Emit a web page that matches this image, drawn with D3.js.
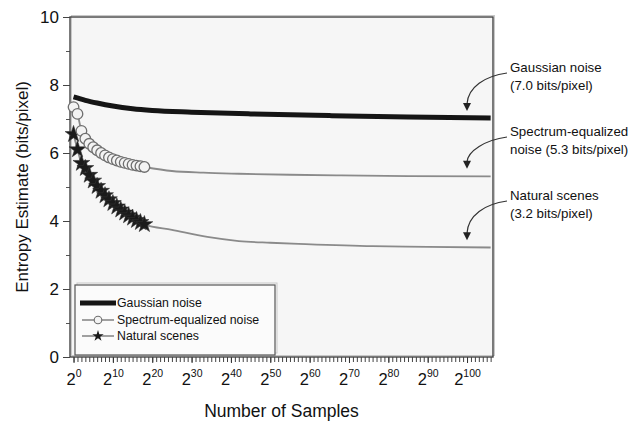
<!DOCTYPE html>
<html>
<head>
<meta charset="utf-8">
<script src="https://cdn.jsdelivr.net/npm/d3@7"></script>
<style>
  html, body { margin: 0; padding: 0; background: #fff; }
  svg { display: block; font-family: "Liberation Sans", Arial, sans-serif; }
</style>
</head>
<body>
<svg id="chart" width="640" height="424"></svg>
<script>
// Entropy estimate vs. number of samples (log2 of sample count on the x axis)

// Gaussian noise: fitted curve
const gaussExp = [0, 3, 6, 10, 15, 20, 30, 45, 65, 85, 106];
const gaussVal = [7.65, 7.55, 7.47, 7.38, 7.30, 7.25, 7.20, 7.15, 7.10, 7.06, 7.03];

// Spectrum-equalized noise: measured points and extrapolated curve
const specExp = [0, 1, 2, 3, 4, 5, 6, 7, 8, 9, 10, 11, 12, 13, 14, 15, 16, 17, 18];
const specVal = [7.35, 7.15, 6.65, 6.42, 6.27, 6.17, 6.08, 6.00, 5.93, 5.87, 5.82, 5.78, 5.74, 5.71, 5.68, 5.65, 5.63, 5.61, 5.59];
const specFitExp = [18, 25, 33, 42, 55, 68, 85, 106];
const specFitVal = [5.59, 5.47, 5.42, 5.39, 5.36, 5.34, 5.32, 5.31];

// Natural scenes: measured points and extrapolated curve
const natExp = [0, 1, 2, 3, 4, 5, 6, 7, 8, 9, 10, 11, 12, 13, 14, 15, 16, 17, 18];
const natVal = [6.55, 6.10, 5.70, 5.55, 5.35, 5.18, 5.02, 4.88, 4.75, 4.63, 4.52, 4.42, 4.33, 4.24, 4.16, 4.09, 4.02, 3.96, 3.90];
const natFitExp = [18, 25, 34, 42, 50, 59, 76, 90, 106];
const natFitVal = [3.90, 3.74, 3.53, 3.41, 3.36, 3.32, 3.26, 3.24, 3.22];

// Asymptotic entropies written beside the curves
const asymNames = ["Gaussian noise", "Spectrum-equalized", "Natural scenes"];
const asymSecond = ["(7.0 bits/pixel)", "noise (5.3 bits/pixel)", "(3.2 bits/pixel)"];
const asymValues = [7.0, 5.3, 3.2];

// Axis ticks
const xMajorExp = [0, 10, 20, 30, 40, 50, 60, 70, 80, 90, 100];
const xMinorExp = d3.range(0, 107);
const yMajor = [0, 2, 4, 6, 8, 10];
const yMinor = [1, 3, 5, 7, 9];

const legendLabels = ["Gaussian noise", "Spectrum-equalized noise", "Natural scenes"];

const svg = d3.select("#chart");
const L = 70, R = 493, T = 17, B = 357;

const x = d3.scaleLog().base(2)
  .domain([Math.pow(2, -0.9), Math.pow(2, 106.6)])
  .range([L, R]);
const y = d3.scaleLinear().domain([0, 10]).range([B, T]);
const px = e => x(Math.pow(2, e));

// plot background
svg.append("rect").attr("x", L).attr("y", T).attr("width", R - L).attr("height", B - T)
  .attr("fill", "#f6f6f6");

// axes
const gx = svg.append("g").attr("transform", `translate(0,${B})`);
gx.call(d3.axisBottom(x).tickValues(xMinorExp.map(e => Math.pow(2, e)))
  .tickSize(5).tickSizeOuter(0).tickFormat(""));
gx.select(".domain").remove();
gx.selectAll(".tick line").attr("stroke", "#444").attr("stroke-width", 1);

const gxl = svg.append("g").attr("transform", `translate(0,${B})`);
gxl.call(d3.axisBottom(x).tickValues(xMajorExp.map(e => Math.pow(2, e)))
  .tickSize(6).tickSizeOuter(0).tickFormat(""));
gxl.select(".domain").remove();
gxl.selectAll(".tick line").attr("stroke", "#333").attr("stroke-width", 1);
gxl.selectAll(".tick").each(function (d) {
  const t = d3.select(this).append("text")
    .attr("y", 28).attr("text-anchor", "middle").attr("fill", "#111");
  t.append("tspan").attr("font-size", 16.5).text("2");
  t.append("tspan").attr("font-size", 10.5).attr("dy", -8).text(Math.round(Math.log2(d)));
});

const gy = svg.append("g").attr("transform", `translate(${L},0)`);
gy.call(d3.axisLeft(y).tickValues(yMajor).tickSize(7).tickSizeOuter(0).tickPadding(4));
gy.select(".domain").remove();
gy.selectAll(".tick line").attr("stroke", "#444");
gy.selectAll(".tick text").attr("font-size", 17).attr("fill", "#111")
  .attr("font-family", "Liberation Sans, Arial, sans-serif");

const gym = svg.append("g").attr("transform", `translate(${L},0)`);
gym.call(d3.axisLeft(y).tickValues(yMinor).tickSize(4).tickSizeOuter(0).tickFormat(""));
gym.select(".domain").remove();
gym.selectAll(".tick line").attr("stroke", "#555");

// frame with a faint shadow
svg.append("rect").attr("x", L + 1.5).attr("y", T - 1.5).attr("width", R - L).attr("height", B - T)
  .attr("fill", "none").attr("stroke", "#c8c8c8").attr("stroke-width", 1);
svg.append("rect").attr("x", L).attr("y", T).attr("width", R - L).attr("height", B - T)
  .attr("fill", "none").attr("stroke", "#444").attr("stroke-width", 1.4);

// curves
const line = d3.line().x(d => px(d[0])).y(d => y(d[1])).curve(d3.curveMonotoneX);
const zip = (a, b) => a.map((v, i) => [v, b[i]]);

svg.append("path").datum(zip(specExp, specVal).concat(zip(specFitExp, specFitVal).slice(1)))
  .attr("d", line).attr("fill", "none").attr("stroke", "#8a8a8a").attr("stroke-width", 1.8);
svg.append("path").datum(zip(natExp, natVal).concat(zip(natFitExp, natFitVal).slice(1)))
  .attr("d", line).attr("fill", "none").attr("stroke", "#8a8a8a").attr("stroke-width", 1.8);
svg.append("path").datum(zip(gaussExp, gaussVal))
  .attr("d", line).attr("fill", "none").attr("stroke", "#151515").attr("stroke-width", 5);

// markers
const star = d3.symbol().type(d3.symbolStar).size(88);
svg.append("g").selectAll("path").data(zip(natExp, natVal)).join("path")
  .attr("d", star).attr("transform", d => `translate(${px(d[0])},${y(d[1])})`)
  .attr("fill", "#1a1a1a").attr("stroke", "#333").attr("stroke-width", 0.6);
svg.append("g").selectAll("circle").data(zip(specExp, specVal)).join("circle")
  .attr("cx", d => px(d[0])).attr("cy", d => y(d[1])).attr("r", 5.3)
  .attr("fill", "#f3f3f3").attr("stroke", "#6e6e6e").attr("stroke-width", 1.3);

// annotations with curved arrows
const labelX = 510;
const firstBaselines = [72, 136, 200];
asymValues.forEach((v, i) => {
  const b = firstBaselines[i];
  const t = svg.append("text").attr("x", labelX).attr("y", b)
    .attr("font-size", 13.3).attr("fill", "#111");
  t.append("tspan").attr("x", labelX).text(asymNames[i]);
  t.append("tspan").attr("x", labelX).attr("dy", 17.5).text(asymSecond[i]);
  const tipX = 467, tipY = y(v) - 8, sx = 507, sy = b + 1;
  svg.append("path")
    .attr("d", `M${sx},${sy} C${sx - 22},${sy + 3} ${tipX + 1},${sy + 14} ${tipX},${tipY - 7}`)
    .attr("fill", "none").attr("stroke", "#333").attr("stroke-width", 1.2);
  svg.append("path")
    .attr("d", `M${tipX - 4},${tipY - 8} L${tipX + 4},${tipY - 8} L${tipX},${tipY} Z`)
    .attr("fill", "#222");
});

// axis titles
svg.append("text").attr("x", (L + R) / 2).attr("y", 417).attr("text-anchor", "middle")
  .attr("font-size", 17.5).attr("fill", "#111").text("Number of Samples");
svg.append("text").attr("transform", `translate(28,${(T + B) / 2}) rotate(-90)`)
  .attr("text-anchor", "middle").attr("font-size", 17).attr("fill", "#111")
  .text("Entropy Estimate (bits/pixel)");

// legend
const lg = svg.append("g");
lg.append("rect").attr("x", 77).attr("y", 283).attr("width", 200).attr("height", 70)
  .attr("fill", "none").attr("stroke", "#c8c8c8").attr("stroke-width", 1);
lg.append("rect").attr("x", 75).attr("y", 285).attr("width", 200).attr("height", 70)
  .attr("fill", "#fbfbfb").attr("stroke", "#555").attr("stroke-width", 1.2);
const rows = [303, 320, 336];
rows.forEach((ry, i) => {
  if (i === 0) {
    lg.append("line").attr("x1", 80).attr("x2", 116).attr("y1", ry).attr("y2", ry)
      .attr("stroke", "#151515").attr("stroke-width", 5);
  } else {
    lg.append("line").attr("x1", 82).attr("x2", 114).attr("y1", ry).attr("y2", ry)
      .attr("stroke", "#8a8a8a").attr("stroke-width", 1.6);
    if (i === 1) {
      lg.append("circle").attr("cx", 98).attr("cy", ry).attr("r", 3.8)
        .attr("fill", "#f3f3f3").attr("stroke", "#6e6e6e").attr("stroke-width", 1.1);
    } else {
      lg.append("path").attr("d", d3.symbol().type(d3.symbolStar).size(40))
        .attr("transform", `translate(98,${ry})`).attr("fill", "#1a1a1a");
    }
  }
  lg.append("text").attr("x", 117).attr("y", ry).attr("dy", "0.35em")
    .attr("font-size", 12.3).attr("fill", "#111").text(legendLabels[i]);
});
</script>
</body>
</html>
